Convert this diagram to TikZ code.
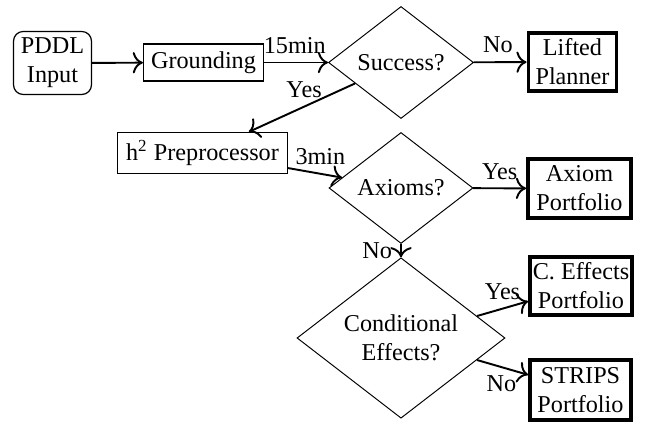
\documentclass[tikz,border=0pt]{standalone}
\usepackage{fontspec}
\setmainfont{Liberation Serif}
\usetikzlibrary{shapes.geometric,arrows.meta}
\begin{document}
\begin{tikzpicture}[x=0.4133pt,y=-0.4133pt,
  inbox/.style={draw, line width=0.5pt, rounded corners=4pt, inner sep=0pt, align=center},
  stepbox/.style={draw, line width=0.5pt, inner sep=0pt, align=center},
  resultbox/.style={draw, line width=1.6pt, inner sep=0pt, align=center},
  decision/.style={draw, diamond, line width=0.4pt, inner sep=0pt, align=center},
  flow/.style={-{To[scale=1.25]}, thick}]
\useasboundingbox (0,0) rectangle (645,424);
\node[inbox, minimum width=78*0.4133pt, minimum height=63*0.4133pt] (pddl) at (52.5,63) {PDDL\\Input};
\node[stepbox, minimum width=120*0.4133pt, minimum height=37*0.4133pt] (ground) at (203.5,62.5) {Grounding};
\node[decision, minimum width=145*0.4133pt, minimum height=112*0.4133pt] (succ) at (401,62.5) {Success?};
\node[resultbox, minimum width=88*0.4133pt, minimum height=58*0.4133pt] (lifted) at (572.5,62) {Lifted\\Planner};
\node[stepbox, minimum width=170*0.4133pt, minimum height=41*0.4133pt] (h2) at (202.5,153) {h\textsuperscript{2} Preprocessor};
\node[decision, minimum width=144*0.4133pt, minimum height=111*0.4133pt] (ax) at (401,188) {Axioms?};
\node[resultbox, minimum width=103*0.4133pt, minimum height=59*0.4133pt] (axp) at (579.5,188.5) {Axiom\\Portfolio};
\node[decision, minimum width=208*0.4133pt, minimum height=160*0.4133pt] (cond) at (401,338) {Conditional\\Effects?};
\node[resultbox, minimum width=102*0.4133pt, minimum height=58*0.4133pt] (ceff) at (581,286) {C. Effects\\Portfolio};
\node[resultbox, minimum width=101*0.4133pt, minimum height=60*0.4133pt] (strips) at (580.5,390) {STRIPS\\Portfolio};
\draw[flow] (pddl) -- (ground);
\draw[flow] (ground) -- node[above, pos=0.48] {15min} (succ);
\draw[flow] (succ) -- node[above, pos=0.46] {No} (lifted);
\draw[flow] (succ) -- node[above, pos=0.48] {Yes} (h2);
\draw[flow] (h2) -- node[above, pos=0.6] {3min} (ax);
\draw[flow] (ax) -- node[above, pos=0.5] {Yes} (axp);
\draw[flow] (ax) -- node[left, pos=0.5] {No} (cond);
\draw[flow] (cond) -- node[above, pos=0.5] {Yes} (ceff);
\draw[flow] (cond) -- node[below, pos=0.48] {No} (strips);
\end{tikzpicture}
\end{document}
